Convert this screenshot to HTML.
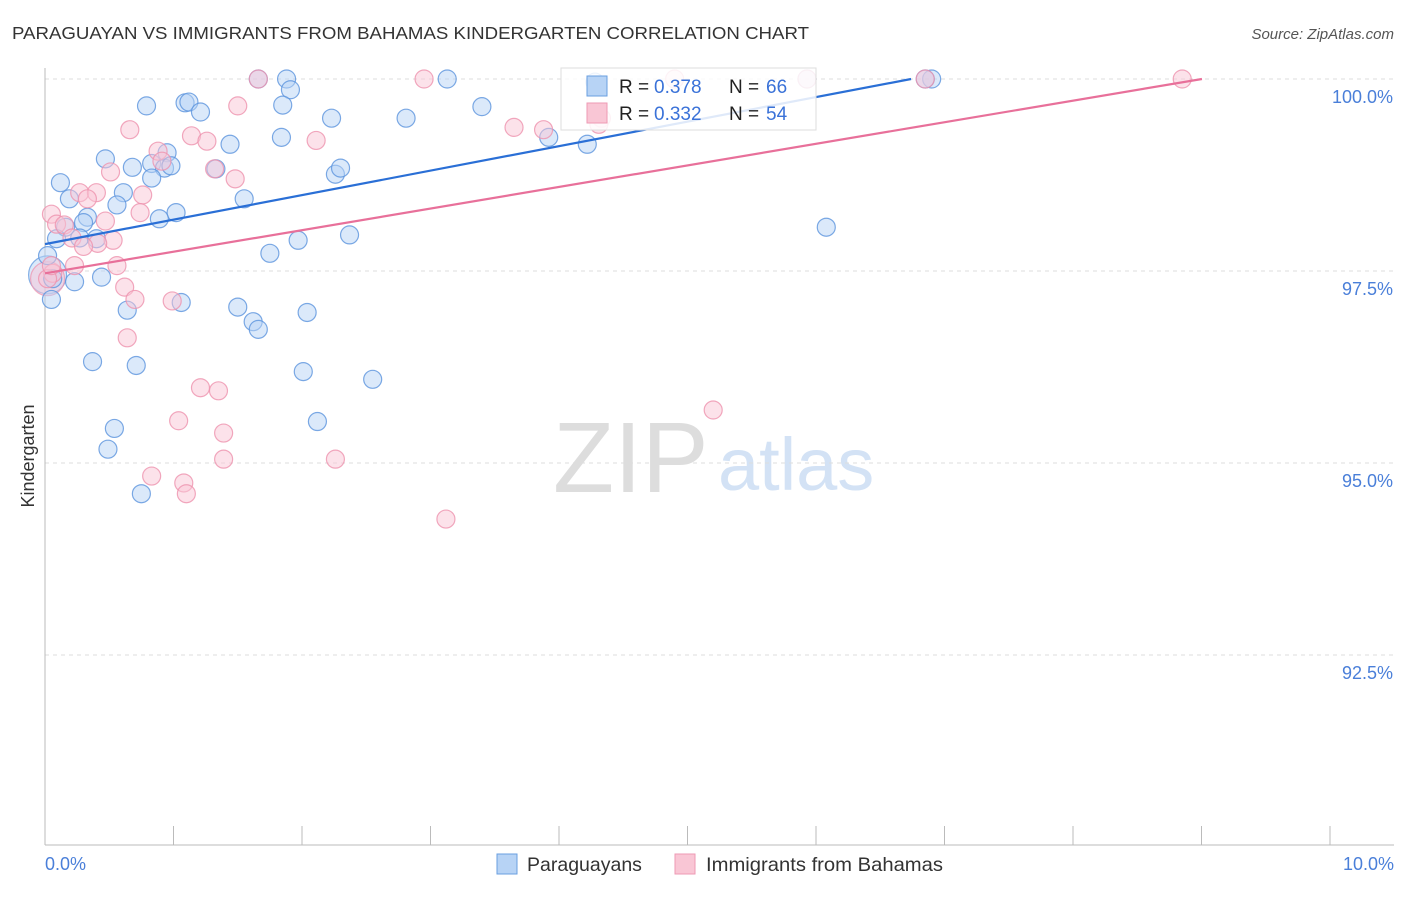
<!DOCTYPE html>
<html><head><meta charset="utf-8"><style>
body{margin:0;background:#fff;font-family:"Liberation Sans",sans-serif;}
svg text{font-family:"Liberation Sans",sans-serif;}
</style></head><body>
<svg id="chart" width="1406" height="892" viewBox="0 0 1406 892" xmlns="http://www.w3.org/2000/svg">
<text x="12" y="39" font-size="17.5" fill="#333" textLength="797" lengthAdjust="spacingAndGlyphs">PARAGUAYAN VS IMMIGRANTS FROM BAHAMAS KINDERGARTEN CORRELATION CHART</text>
<text x="1394" y="39" font-size="15" fill="#555" text-anchor="end" font-style="italic">Source: ZipAtlas.com</text>
<g>
<text x="553" y="492" font-size="100" fill="#ddd" font-family="Liberation Serif">ZIP</text>
<text x="718" y="490" font-size="74" fill="#d3e2f5">atlas</text>
</g>
<g id="grid"></g>
<g id="axes"></g>
<g id="pts"></g>
<g id="lines"></g>
<g>
<rect x="561" y="68" width="255" height="62" fill="#fff" fill-opacity="0.85" stroke="#ddd"/>
<rect x="587" y="76" width="20" height="20" fill="#b7d3f5" stroke="#6a9fe0"/>
<text x="619" y="93" font-size="19" fill="#222">R =</text>
<text x="654" y="93" font-size="19" fill="#3a72d8">0.378</text>
<text x="729" y="93" font-size="19" fill="#222">N =</text>
<text x="766" y="93" font-size="19" fill="#3a72d8">66</text>
<rect x="587" y="103" width="20" height="20" fill="#f9c6d5" stroke="#ee9ab4"/>
<text x="619" y="120" font-size="19" fill="#222">R =</text>
<text x="654" y="120" font-size="19" fill="#3a72d8">0.332</text>
<text x="729" y="120" font-size="19" fill="#222">N =</text>
<text x="766" y="120" font-size="19" fill="#3a72d8">54</text>
</g>
<g>
<rect x="497" y="854" width="20" height="20" fill="#b7d3f5" stroke="#6a9fe0"/>
<text x="527" y="871" font-size="19.5" fill="#333">Paraguayans</text>
<rect x="675" y="854" width="20" height="20" fill="#f9c6d5" stroke="#ee9ab4"/>
<text x="706" y="871" font-size="19.5" fill="#333" textLength="237" lengthAdjust="spacingAndGlyphs">Immigrants from Bahamas</text>
</g>
<text transform="translate(34,456) rotate(-90)" font-size="18" fill="#333" text-anchor="middle">Kindergarten</text>
</svg>
<script>
const xTicks=[0,1,2,3,4,5,6,7,8,9,10];
const yTicks=[100,97.5,95,92.5];
const yTickLabels=["100.0%","97.5%","95.0%","92.5%"];
const blueX=[1.66,1.88,3.13,6.9,4.28,1.91,0.79,1.09,1.12,1.21,1.85,2.23,2.81,3.4,1.84,1.44,3.92,4.22,0.47,0.95,0.68,0.83,0.93,0.98,1.33,2.26,2.3,0.12,0.83,0.61,1.55,0.19,0.56,1.02,0.89,0.33,0.3,0.16,6.08,0.09,0.27,0.4,2.37,1.97,1.75,0.06,0.05,0.44,0.23,1.06,0.64,1.5,1.62,1.66,2.04,0.37,0.71,2.01,2.55,0.54,0.49,2.12,0.75,5.93,6.85,0.02];
const blueY=[100,100,100,100,99.96,99.86,99.65,99.69,99.7,99.57,99.66,99.49,99.49,99.64,99.24,99.15,99.24,99.15,98.96,99.04,98.85,98.9,98.84,98.87,98.83,98.76,98.84,98.65,98.71,98.52,98.44,98.44,98.36,98.26,98.18,98.2,98.13,98.07,98.07,97.92,97.93,97.92,97.97,97.9,97.73,97.4,97.13,97.42,97.36,97.09,96.99,97.03,96.84,96.74,96.96,96.32,96.27,96.19,96.09,95.45,95.18,95.54,94.6,100,100,97.7];
const pinkX=[1.66,2.95,4.9,5.93,6.85,8.85,1.5,2.11,0.66,1.14,1.26,0.88,0.91,1.32,1.48,0.51,0.27,0.4,0.33,0.76,0.05,0.09,0.15,0.47,0.74,0.21,0.53,0.41,0.3,0.06,0.02,0.23,0.56,0.62,0.7,0.99,0.64,3.65,3.88,4.33,1.21,1.35,1.04,1.39,0.83,1.08,1.1,1.39,2.26,3.12,5.2,4.31,0.05];
const pinkY=[100,100,100,100,100,100,99.65,99.2,99.34,99.26,99.19,99.06,98.93,98.83,98.7,98.79,98.52,98.52,98.44,98.49,98.24,98.11,98.1,98.15,98.26,97.93,97.9,97.86,97.82,97.47,97.4,97.57,97.57,97.29,97.13,97.11,96.63,99.37,99.34,99.49,95.98,95.94,95.55,95.39,94.83,94.74,94.6,95.05,95.05,94.27,95.69,99.41,97.57];
const bigBlue={x:0.02,y:97.45}, bigPink={x:0.02,y:97.4};
const trendX=[0,10];
const blueIntercept=97.85, blueSlope=0.319;
const pinkIntercept=97.47, pinkSlope=0.281;
const X0=45,X1=1330,YTOP=79,PX_PER_PCT=76.8;
const xs=v=>X0+(X1-X0)*v/10;
const ys=v=>YTOP+(100-v)*PX_PER_PCT;
const NS="http://www.w3.org/2000/svg";
function mk(t,a,p){const e=document.createElementNS(NS,t);for(const k in a)e.setAttribute(k,a[k]);p.appendChild(e);return e;}
const grid=document.getElementById('grid'),axes=document.getElementById('axes'),pts=document.getElementById('pts'),lines=document.getElementById('lines');
yTicks.forEach((t,i)=>{
 const l=mk('line',{x1:X0,x2:1394,y1:ys(t),y2:ys(t),stroke:'#ddd','stroke-dasharray':'4,4'},grid);
 
 
 const tx=mk('text',{x:1393,y:ys(t)+24,'font-size':18,fill:'#4a7fd9','text-anchor':'end'},axes);
 tx.textContent=yTickLabels[i];
 
 
});
const ax=mk('line',{x1:X0,x2:X0,y1:68,y2:845,stroke:'#bbb'},axes);


const bx=mk('line',{x1:X0,x2:1394,y1:845,y2:845,stroke:'#bbb'},axes);


xTicks.forEach(t=>{
 const l=mk('line',{x1:xs(t),x2:xs(t),y1:826,y2:845,stroke:'#bbb'},axes);
 
 
});
const xl0=mk('text',{x:45,y:870,'font-size':18,fill:'#4a7fd9'},axes);xl0.textContent="0.0%";


const xl1=mk('text',{x:1394,y:870,'font-size':18,fill:'#4a7fd9','text-anchor':'end'},axes);xl1.textContent="10.0%";


function dot(x,y,r,fill,stroke,name){
 const c=mk('circle',{cx:xs(x),cy:ys(y),r:r,fill:fill,'fill-opacity':0.5,stroke:stroke,'stroke-width':1.2,'stroke-opacity':0.8},pts);
 
 
}
dot(bigBlue.x,bigBlue.y,19,'#b7d3f5','#6a9fe0','paraguayan-point-large');
dot(bigPink.x,bigPink.y,17,'#f9c6d5','#ee9ab4','bahamas-point-large');
blueX.forEach((x,i)=>dot(x,blueY[i],9,'#b7d3f5','#5b93dd','paraguayan-point'));
pinkX.forEach((x,i)=>dot(x,pinkY[i],9,'#f9c6d5','#ee92ae','bahamas-point'));
function trend(b,m,color,name){
 let xEnd=Math.min(trendX[1],(100-b)/m);
 const l=mk('line',{x1:xs(trendX[0]),y1:ys(b),x2:xs(xEnd),y2:ys(b+m*xEnd),stroke:color,'stroke-width':2.2},lines);
 
 
}
trend(blueIntercept,blueSlope,'#2a6fd6','paraguayan-trendline');
trend(pinkIntercept,pinkSlope,'#e8709a','bahamas-trendline');
</script>
</body></html>
